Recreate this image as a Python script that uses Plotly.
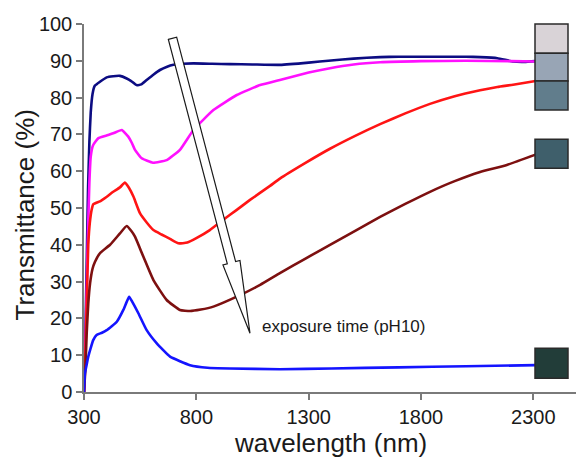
import plotly.graph_objects as go
import math

# ---------------- data ----------------
navy_x = [300, 306, 312, 318, 324, 330, 338, 348, 371, 401, 430, 460, 490, 510, 534, 555, 579, 610, 638, 670, 698, 740, 787, 870, 950, 1050, 1172, 1300, 1400, 1500, 1618, 1700, 1800, 1900, 2000, 2063, 2140, 2210, 2260, 2310]
navy_y = [0, 15, 35, 55, 68, 76, 81, 83.2, 84.3, 85.5, 85.8, 85.9, 85.2, 84.5, 83.4, 83.6, 84.8, 86.3, 87.5, 88.4, 88.9, 89.2, 89.3, 89.2, 89.1, 89.0, 88.9, 89.5, 90.1, 90.6, 91.0, 91.1, 91.1, 91.1, 91.1, 91.0, 90.7, 89.8, 89.7, 89.9]

magenta_x = [300, 306, 312, 318, 324, 330, 340, 364, 400, 430, 468, 497, 512, 527, 557, 607, 668, 727, 787, 876, 980, 1084, 1172, 1300, 1395, 1500, 1618, 1800, 2000, 2200, 2310]
magenta_y = [0, 12, 28, 44, 57, 64, 67, 69, 69.7, 70.3, 71.2, 69.4, 67.8, 65.8, 63.5, 62.3, 63, 65.8, 71.2, 76.6, 80.7, 83.4, 84.8, 86.8, 88.0, 89.0, 89.6, 89.9, 90.0, 89.9, 89.8]

red_x = [300, 306, 312, 319, 326, 334, 341, 371, 400, 430, 460, 482, 500, 520, 549, 580, 609, 645, 683, 720, 760, 800, 860, 920, 980, 1039, 1128, 1172, 1284, 1395, 1507, 1618, 1730, 1840, 1950, 2063, 2140, 2210, 2310]
red_y = [0, 10, 24, 40, 46, 49.5, 51, 51.8, 53, 54.4, 55.6, 56.9, 55.5, 53.1, 48.6, 46, 44, 42.8, 41.6, 40.4, 40.6, 41.8, 44, 46.8, 49.5, 52.2, 56.0, 58.0, 62.2, 66.1, 69.6, 72.8, 75.7, 78.3, 80.4, 82.0, 82.9, 83.5, 84.5]

brown_x = [300, 306, 312, 319, 327, 338, 349, 371, 416, 460, 490, 510, 527, 564, 609, 668, 727, 772, 820, 876, 980, 1084, 1172, 1284, 1395, 1507, 1618, 1730, 1840, 1950, 2063, 2182, 2310]
brown_y = [0, 6, 16, 24, 29.5, 33.5, 35.4, 37.7, 40, 43.1, 45.1, 43.8, 42.2, 36.8, 30.4, 25, 22.3, 22, 22.4, 23.2, 25.9, 29.1, 32.3, 36.2, 40.0, 43.8, 47.6, 51.1, 54.4, 57.3, 59.8, 61.7, 64.5]

blue_x = [300, 304, 312, 319, 330, 341, 356, 380, 401, 446, 475, 490, 501, 515, 542, 579, 624, 683, 772, 850, 950, 1172, 1400, 1700, 2000, 2310]
blue_y = [0, 5, 7.5, 9.6, 12, 14.1, 15.5, 16.1, 16.8, 19.1, 22.3, 24.5, 25.9, 24.5, 21.4, 16.8, 13.2, 9.6, 7.3, 6.6, 6.4, 6.2, 6.4, 6.7, 7.0, 7.3]

x_ticks = [300, 800, 1300, 1800, 2300]
y_ticks = [0, 10, 20, 30, 40, 50, 60, 70, 80, 90, 100]

x_title = "wavelength (nm)"
y_title = "Transmittance (%)"
arrow_label = "exposure time (pH10)"

# ---------------- figure ----------------
W, H = 576, 457
ML, MR, MT, MB = 84, 0, 24, 65
PW, PH = W - ML - MR, H - MT - MB
FONT = "Arial, 'Liberation Sans', sans-serif"


def px2paper(x, y):
    return (x - ML) / PW, (MT + PH - y) / PH


fig = go.Figure()
series = [
    (navy_x, navy_y, "#0c0c82"),
    (magenta_x, magenta_y, "#ff10ff"),
    (red_x, red_y, "#ff1414"),
    (brown_x, brown_y, "#7d1010"),
    (blue_x, blue_y, "#1414ff"),
]
for xs, ys, col in series:
    fig.add_trace(go.Scatter(x=xs, y=ys, mode="lines",
                             line=dict(color=col, width=2.6, shape="spline", smoothing=0.4),
                             showlegend=False, hoverinfo="skip"))

shapes = []
# colour swatches (pixel boxes)
swatches = [
    (535, 24, 568, 53.3, "#d9d3d7"),
    (535, 53.3, 568, 81, "#98a5b5"),
    (535, 81, 568, 110, "#617d8c"),
    (535, 139.3, 568, 168.3, "#3f5f6b"),
    (535, 348.3, 568, 378.3, "#223d39"),
]
for x0, y0, x1, y1, c in swatches:
    a0, b0 = px2paper(x0, y1)
    a1, b1 = px2paper(x1, y0)
    shapes.append(dict(type="rect", xref="paper", yref="paper", x0=a0, x1=a1, y0=b0, y1=b1,
                       fillcolor=c, line=dict(color="#2a2a2a", width=1.5), layer="above"))

# hollow arrow
sx, sy = 172.5, 38.3
tx, ty = 250.0, 333.3
dx, dy = tx - sx, ty - sy
L = math.hypot(dx, dy)
ux, uy = dx / L, dy / L
nx, ny = uy, -ux
hw, bw, hl = 4.3, 8.8, 73.0
bx, by = tx - hl * ux, ty - hl * uy
pts = [
    (sx - hw * nx, sy - hw * ny),
    (sx + hw * nx, sy + hw * ny),
    (bx + hw * nx, by + hw * ny),
    (bx + bw * nx, by + bw * ny),
    (tx, ty),
    (bx - bw * nx, by - bw * ny),
    (bx - hw * nx, by - hw * ny),
]
pp = [px2paper(a, b) for a, b in pts]
path = "M " + " L ".join(f"{a:.5f},{b:.5f}" for a, b in pp) + " Z"
shapes.append(dict(type="path", xref="paper", yref="paper", path=path,
                   fillcolor="white", line=dict(color="#1a1a1a", width=1.2), layer="above"))

ax, ay = px2paper(260, 326.7)
xtx, xty = px2paper(330, 443)
ytx, yty = px2paper(25, 215.5)
annotations = [
    dict(text=arrow_label, xref="paper", yref="paper", x=ax, y=ay, xanchor="left", yanchor="middle",
         showarrow=False, font=dict(family=FONT, size=17, color="#1a1a1a")),
    dict(text=x_title, xref="paper", yref="paper", x=xtx, y=xty, xanchor="center", yanchor="middle",
         showarrow=False, font=dict(family=FONT, size=26, color="#1a1a1a")),
    dict(text=y_title, xref="paper", yref="paper", x=ytx, y=yty, xanchor="center", yanchor="middle",
         textangle=-90, showarrow=False, font=dict(family=FONT, size=26, color="#1a1a1a")),
]

axis_common = dict(showgrid=False, zeroline=False, showline=True, linecolor="#7a7a7a", linewidth=1.5,
                   ticks="outside", ticklen=6, tickwidth=1.5, tickcolor="#7a7a7a",
                   tickfont=dict(family=FONT, size=20, color="#1a1a1a"))

fig.update_layout(
    width=W, height=H,
    margin=dict(l=ML, r=MR, t=MT, b=MB),
    paper_bgcolor="white", plot_bgcolor="white",
    xaxis=dict(range=[300, 2490], tickvals=x_ticks, **axis_common),
    yaxis=dict(range=[0, 100], tickvals=y_ticks, **axis_common),
    shapes=shapes, annotations=annotations,
)

fig.write_html("out.html")
